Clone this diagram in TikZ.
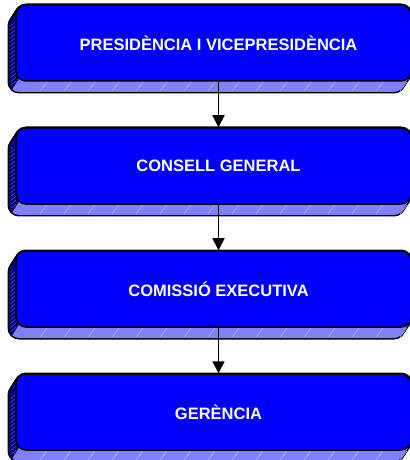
\documentclass[tikz,border=0pt]{standalone}
\usepackage{fontspec}
\setmainfont{Liberation Sans}
\usetikzlibrary{arrows.meta}
\definecolor{facefront}{HTML}{0000FF}
\definecolor{facelight}{HTML}{8080FF}
\definecolor{facedark}{HTML}{00007A}
\definecolor{hatchdark}{HTML}{5A5AC8}
\definecolor{hatchlight}{HTML}{B8B8FF}
\tikzset{
  frontbox/.style={draw=black, line width=1.5bp, fill=facefront, rounded corners=10bp,
    minimum width=395bp, minimum height=76bp, inner sep=0pt},
  boxlabel/.style={text=white, font=\bfseries\fontsize{16.5bp}{19bp}\selectfont},
  flowarrow/.style={draw=black, line width=1.6bp, -{Triangle[length=12bp,width=12bp]}}
}
% #1 = top y of the front face
\newcommand{\solidbody}[1]{%
  \foreach \t in {0,0.5,...,7}
    \draw[line width=3bp, rounded corners=10bp] ({16-\t},{#1+\t*11/7}) rectangle ({411-\t},{#1+76+\t*11/7});
  \foreach \t in {0,0.5,...,7}
    \fill[facedark, rounded corners=10bp] ({16-\t},{#1+\t*11/7}) rectangle ({411-\t},{#1+76+\t*11/7});
  \begin{scope}
    \clip (10.5,{#1+20}) rectangle (16,{#1+80});
    \foreach \k in {0,4,...,80}
      \draw[hatchdark, line width=0.5bp] (9,{#1+\k+6}) -- (16,{#1+\k});
  \end{scope}
  \begin{scope}
    \clip (18.9,{#1+73.1}) -- (4.9,{#1+95.1}) -- (500,{#1+95.1}) -- (500,{#1+55}) -- (30,{#1+55}) -- cycle;
    \foreach \t in {0,0.5,...,7}
      \fill[facelight, rounded corners=10bp] ({16-\t},{#1+\t*11/7}) rectangle ({411-\t},{#1+76+\t*11/7});
    \foreach \k in {40,64,...,400}
      \draw[hatchlight, line width=0.5bp] (\k,{#1+86}) -- ({\k+7},{#1+77});
  \end{scope}
  \draw[black, line width=0.6bp] (18.9,{#1+73.1}) -- (11.9,{#1+84.1});
}
\begin{document}
\begin{tikzpicture}[x=1bp,y=-1bp]
  \useasboundingbox (0,0) rectangle (409,460);
  \solidbody{5}
  \node[frontbox] (b1) at (213.5,43) {};
  \node[boxlabel] (t1) at (218.5,43) {PRESIDÈNCIA I VICEPRESIDÈNCIA};
  \solidbody{128}
  \node[frontbox] (b2) at (213.5,166) {};
  \node[boxlabel] (t2) at (218.5,166) {CONSELL GENERAL};
  \solidbody{251}
  \node[frontbox] (b3) at (213.5,289) {};
  \node[boxlabel] (t3) at (218.5,289) {COMISSIÓ EXECUTIVA};
  \solidbody{374}
  \node[frontbox] (b4) at (213.5,412) {};
  \node[boxlabel] (t4) at (218.5,412) {GERÈNCIA};
  \draw[flowarrow] (b1.south -| t1) -- (b2.north -| t1);
  \draw[flowarrow] (b2.south -| t2) -- (b3.north -| t2);
  \draw[flowarrow] (b3.south -| t3) -- (b4.north -| t3);
\end{tikzpicture}
\end{document}
